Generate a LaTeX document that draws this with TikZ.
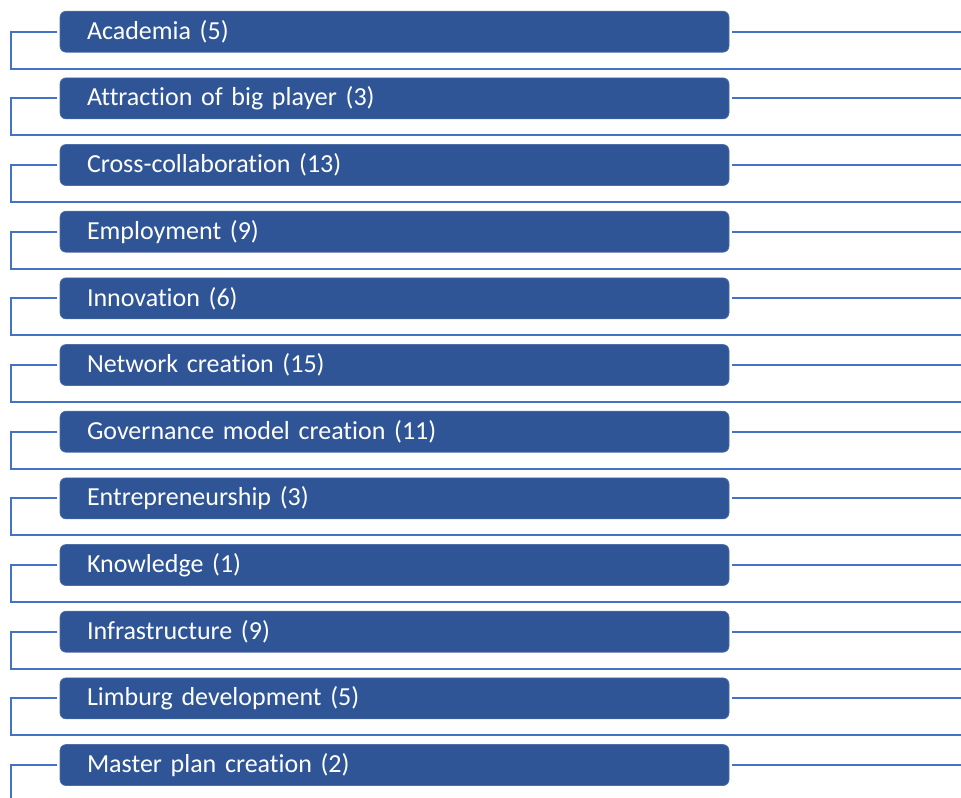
\documentclass[tikz,border=0pt]{standalone}
\usepackage{fontspec}
\setmainfont[Ligatures=NoCommon]{Carlito}
\usetikzlibrary{positioning,calc}
\definecolor{boxblue}{HTML}{2F5597}
\definecolor{lineblue}{HTML}{4472C4}
\tikzset{
	topic/.style={rectangle, rounded corners=4.5pt, fill=boxblue, draw=boxblue!85!white, line width=0.5pt,
		text=white, font=\fontsize{19.5pt}{22pt}\selectfont, text width=461.25pt, align=left,
		inner xsep=20.25pt, inner ysep=0pt, minimum height=30.75pt, outer sep=2.25pt, anchor=west},
	conn/.style={lineblue, line width=1.5pt}
}
\begin{document}
\begin{tikzpicture}[x=0.75pt,y=-0.75pt]
		\useasboundingbox (0,0) rectangle (961,798);
		\foreach \lbl [count=\i] in {{Academia (5)},{Attraction of big player (3)},{Cross-collaboration (13)},
			{Employment (9)},{Innovation (6)},{Network creation (15)},{Governance model creation (11)},
			{Entrepreneurship (3)},{Knowledge (1)},{Infrastructure (9)},{Limburg development (5)},
			{Master plan creation (2)}}{
			\pgfmathsetmacro{\y}{31.7+(\i-1)*66.67}
			\node[topic] (b\i) at (57,\y) {\lbl};
			\coordinate (r\i) at (961,\y);
			\draw[conn] (b\i.east) -- (r\i);
			\ifnum\i<12
				\coordinate (lb\i) at (11,\y+37);
				\coordinate (re\i) at (961,\y+37);
				\draw[conn] (b\i.west) -| (lb\i) -- (re\i);
			\else
				\coordinate (lb\i) at (11,798);
				\draw[conn] (b\i.west) -| (lb\i);
			\fi
		}
\end{tikzpicture}
\end{document}
